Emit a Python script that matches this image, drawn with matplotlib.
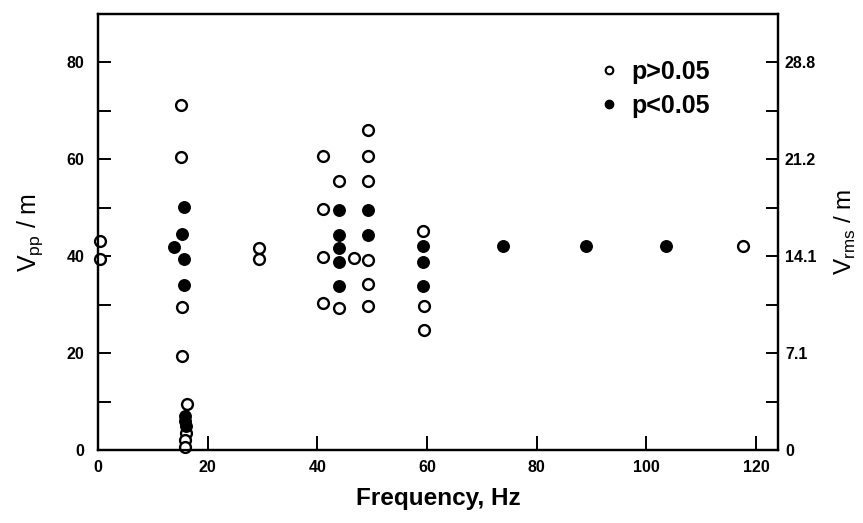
import matplotlib
matplotlib.use("Agg")
import matplotlib.pyplot as plt
from matplotlib.lines import Line2D

# Frequency (Hz) and Vpp/m values
open_x = [0.3, 0.3, 15.2, 15.2, 15.4, 15.4, 16.2, 16.0, 15.9, 15.9,
          29.4, 29.4,
          41.0, 41.0, 41.0, 41.0,
          44.0, 44.0, 46.6,
          49.2, 49.2, 49.2, 49.3, 49.3, 49.3,
          59.3, 59.4, 59.4,
          117.7]
open_y = [43.2, 39.5, 71.2, 60.5, 29.5, 19.5, 9.5, 3.5, 2.0, 0.6,
          41.7, 39.5,
          60.7, 49.8, 39.8, 30.3,
          55.6, 29.4, 39.7,
          66.0, 60.7, 55.6, 39.3, 34.3, 29.8,
          45.3, 29.8, 24.8,
          42.1]
filled_x = [15.6, 15.4, 13.9, 15.6, 15.6, 15.8, 15.9, 16.0,
            44.0, 44.0, 44.0, 44.0, 44.0,
            49.2, 49.2,
            59.3, 59.3, 59.3,
            73.9, 88.9, 103.5]
filled_y = [50.2, 44.5, 42.0, 39.5, 34.0, 7.0, 6.0, 5.0,
            49.5, 44.4, 41.8, 38.9, 33.9,
            49.5, 44.4,
            42.1, 38.9, 33.9,
            42.1, 42.1, 42.1]

x_ticks = [0, 20, 40, 60, 80, 100, 120]
y_ticks = [0, 20, 40, 60, 80]
y_minor = [10, 30, 50, 70]
rms_labels = ["0", "7.1", "14.1", "21.2", "28.8"]
legend_labels = ["p>0.05", "p<0.05"]

plt.rcParams['font.family'] = ['Liberation Sans', 'DejaVu Sans']

fig = plt.figure(figsize=(8.63, 5.23), dpi=100)
ax = fig.add_axes([0.1136, 0.1396, 0.7879, 0.8336])

ax.plot(open_x, open_y, linestyle='none', marker='o', markersize=7.8,
        markerfacecolor='white', markeredgecolor='black', markeredgewidth=1.7,
        clip_on=False, zorder=3)
ax.plot(filled_x, filled_y, linestyle='none', marker='o', markersize=8.3,
        markerfacecolor='black', markeredgecolor='black', markeredgewidth=1,
        clip_on=False, zorder=3)

ax.set_xlim(0, 124)
ax.set_ylim(0, 90)

for s in ax.spines.values():
    s.set_linewidth(1.6)

ax.set_xticks(x_ticks)
ax.set_xticklabels([str(t) for t in x_ticks], fontsize=11.5, fontweight='bold')
ax.set_yticks(y_ticks)
ax.set_yticklabels([str(t) for t in y_ticks], fontsize=11.5, fontweight='bold')
ax.set_yticks(y_minor, minor=True)
ax.tick_params(axis='x', direction='in', length=10, width=1.4, pad=7)
ax.tick_params(axis='y', which='both', direction='in', length=9, width=1.4, pad=10)

ax2 = ax.twinx()
ax2.set_ylim(ax.get_ylim())
ax2.set_yticks(y_ticks)
ax2.set_yticklabels(rms_labels, fontsize=11.5, fontweight='bold')
ax2.set_yticks(y_minor, minor=True)
ax2.tick_params(axis='y', which='both', direction='in', length=9, width=1.4, pad=5)
for s in ax2.spines.values():
    s.set_linewidth(1.6)

ax.set_xlabel("Frequency, Hz", fontsize=17.5, fontweight='bold', labelpad=9)
ax.set_ylabel(r"V$_{\mathregular{pp}}$ / m", fontsize=18, labelpad=15)
ax2.set_ylabel(r"V$_{\mathregular{rms}}$ / m", fontsize=17.5, labelpad=12)

handles = [Line2D([], [], linestyle='none', marker='o', markersize=5.5,
                  markerfacecolor='white', markeredgecolor='black', markeredgewidth=1.5),
           Line2D([], [], linestyle='none', marker='o', markersize=6,
                  markerfacecolor='black', markeredgecolor='black')]
leg = ax.legend(handles, legend_labels, loc='upper left', bbox_to_anchor=(0.703, 0.947),
                frameon=False, prop={'size': 18, 'weight': 'bold'},
                handlelength=0.8, handletextpad=0.5, labelspacing=0.4)

fig.savefig("out.png", dpi=100)
